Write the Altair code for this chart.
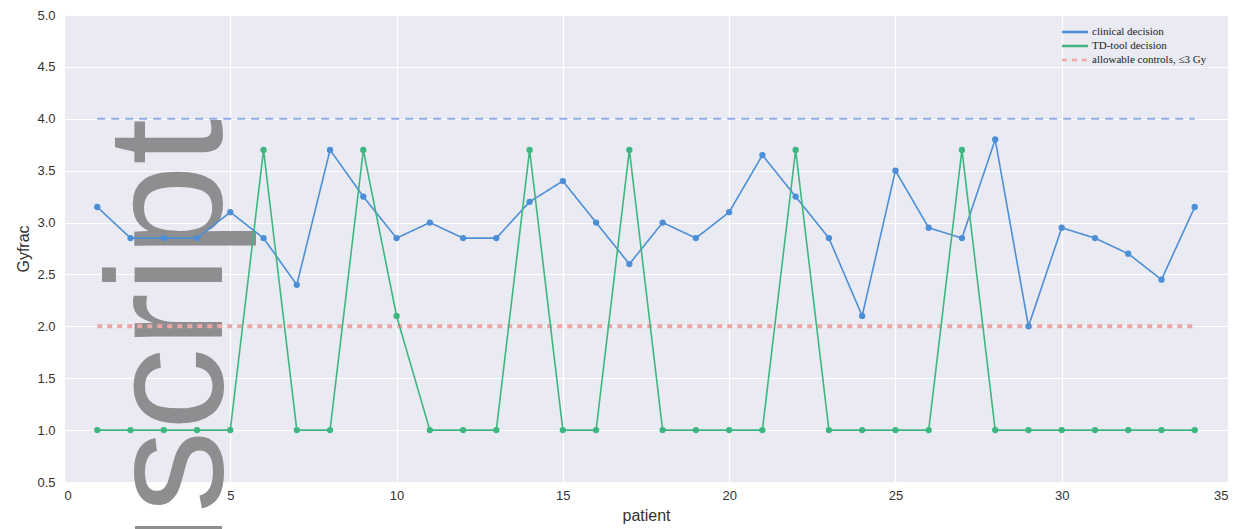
import altair as alt
import pandas as pd

patients = list(range(1, 35))
clinical = [3.15, 2.85, 2.85, 2.85, 3.1, 2.85, 2.4, 3.7, 3.25, 2.85,
            3.0, 2.85, 2.85, 3.2, 3.4, 3.0, 2.6, 3.0, 2.85, 3.1,
            3.65, 3.25, 2.85, 2.1, 3.5, 2.95, 2.85, 3.8, 2.0, 2.95,
            2.85, 2.7, 2.45, 3.15]
tdtool = [1.0, 1.0, 1.0, 1.0, 1.0, 3.7, 1.0, 1.0, 3.7, 2.1,
          1.0, 1.0, 1.0, 3.7, 1.0, 1.0, 3.7, 1.0, 1.0, 1.0,
          1.0, 3.7, 1.0, 1.0, 1.0, 1.0, 3.7, 1.0, 1.0, 1.0,
          1.0, 1.0, 1.0, 1.0]
series_names = ["clinical decision", "TD-tool decision", "allowable controls, \u22643 Gy"]
series_colors = ["#4C8FD6", "#3DB67F", "#EBA7A7"]
upper_limit = 4.0
lower_limit = 2.0
x_ticks = [0, 5, 10, 15, 20, 25, 30, 35]
y_ticks = [0.5, 1.0, 1.5, 2.0, 2.5, 3.0, 3.5, 4.0, 4.5, 5.0]

lines_df = pd.DataFrame({
    "patient": patients * 2,
    "value": clinical + tdtool,
    "series": [series_names[0]] * len(patients) + [series_names[1]] * len(patients),
})
lower_df = pd.DataFrame({"x1": [patients[0]], "x2": [patients[-1]], "y": [lower_limit],
                         "series": [series_names[2]]})
upper_df = pd.DataFrame({"x1": [patients[0]], "x2": [patients[-1]], "y": [upper_limit]})

xscale = alt.Scale(domain=[0, 35], nice=False, zero=False)
yscale = alt.Scale(domain=[0.5, 5.0], nice=False, zero=False)

color = alt.Color("series:N", scale=alt.Scale(domain=series_names, range=series_colors),
                  legend=alt.Legend(title=None, orient="none", legendX=1003, legendY=9,
                                    symbolType="M-2,0L2,0", symbolSize=170, symbolStrokeWidth=2.5,
                                    labelFontSize=11, labelFont="Liberation Serif",
                                    labelColor="#222", rowPadding=1, labelOffset=9))
dash = alt.StrokeDash("series:N", scale=alt.Scale(domain=series_names,
                                                   range=[[1, 0], [1, 0], [5, 5]]),
                      legend=None)

watermark = alt.Chart(pd.DataFrame({"t": ["script"]})).mark_text(
    angle=270, align="left", baseline="alphabetic", font="Liberation Sans",
    fontSize=165, color="#8E8E90"
).encode(x=alt.value(158), y=alt.value(498), text="t:N")

bar = alt.Chart(pd.DataFrame({"a": [0]})).mark_rect(color="#8E8E90").encode(
    x=alt.value(71), x2=alt.value(158), y=alt.value(511), y2=alt.value(516))

upper = alt.Chart(upper_df).mark_rule(color="#90AEE6", strokeWidth=2, strokeDash=[8, 6]).encode(
    x=alt.X("x1:Q", scale=xscale), x2="x2:Q", y=alt.Y("y:Q", scale=yscale))

lower = alt.Chart(lower_df).mark_rule(strokeWidth=4).encode(
    x=alt.X("x1:Q", scale=xscale), x2="x2:Q", y=alt.Y("y:Q", scale=yscale),
    color=color, strokeDash=dash)

lines = alt.Chart(lines_df).mark_line(
    strokeWidth=1.6, point=alt.OverlayMarkDef(filled=True, size=40, opacity=1)
).encode(
    x=alt.X("patient:Q", scale=xscale, title="patient",
            axis=alt.Axis(values=x_ticks, format="d", labelPadding=7, titlePadding=5)),
    y=alt.Y("value:Q", scale=yscale, title="Gyfrac",
            axis=alt.Axis(values=y_ticks, format=".1f", labelPadding=9, titlePadding=5)),
    color=color, strokeDash=dash, detail="series:N",
)

chart = alt.layer(watermark, bar, upper, lower, lines).properties(
    width=1164, height=467,
    autosize=alt.AutoSizeParams(type="none"),
    padding={"left": 64, "top": 15, "right": 9, "bottom": 47},
    background="white",
).configure_view(fill="#EAEAF2", stroke=None).configure_axis(
    grid=True, gridColor="white", gridWidth=1.2, domain=False, ticks=False,
    labelFont="Liberation Sans", labelFontSize=13, labelColor="#333",
    titleFont="Liberation Sans", titleFontSize=16, titleFontWeight="normal", titleColor="#333",
)

chart.save("out.html", embed_options={"renderer": "svg", "actions": False})
